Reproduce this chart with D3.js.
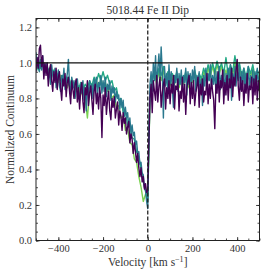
<!DOCTYPE html>
<html>
<head>
<meta charset="utf-8">
<script src="https://cdn.jsdelivr.net/npm/d3@7"></script>
<style>
  body { margin: 0; background: #fff; }
  svg { display: block; }
  .tick text { font-family: "Liberation Serif", serif; font-size: 10.5px; fill: #333; }
</style>
</head>
<body>
<div id="chart"></div>
<script>
// velocity grids (km/s): coarse for the two faint spectra, fine for the two on top
var velocityCoarse = [-500,-490,-480,-470,-460,-450,-440,-430,-420,-410,-400,-390,-380,-370,-360,-350,-340,-330,-320,-310,-300,-290,-280,-270,-260,-250,-240,-230,-220,-210,-200,-190,-180,-170,-160,-150,-140,-130,-120,-110,-100,-90,-80,-70,-60,-50,-40,-30,-20,-10,0,10,20,30,40,50,60,70,80,90,100,110,120,130,140,150,160,170,180,190,200,210,220,230,240,250,260,270,280,290,300,310,320,330,340,350,360,370,380,390,400,410,420,430,440,450,460,470,480,490,500];
var velocityFine = [
  -500,-495,-490,-485,-480,-475,-470,-465,-460,-455,
  -450,-445,-440,-435,-430,-425,-420,-415,-410,-405,
  -400,-395,-390,-385,-380,-375,-370,-365,-360,-355,
  -350,-345,-340,-335,-330,-325,-320,-315,-310,-305,
  -300,-295,-290,-285,-280,-275,-270,-265,-260,-255,
  -250,-245,-240,-235,-230,-225,-220,-215,-210,-205,
  -200,-195,-190,-185,-180,-175,-170,-165,-160,-155,
  -150,-145,-140,-135,-130,-125,-120,-115,-110,-105,
  -100,-95,-90,-85,-80,-75,-70,-65,-60,-55,
  -50,-45,-40,-35,-30,-25,-20,-15,-10,-5,
  0,
  5,10,15,20,25,30,35,40,45,50,
  55,60,65,70,75,80,85,90,95,100,
  105,110,115,120,125,130,135,140,145,150,
  155,160,165,170,175,180,185,190,195,200,
  205,210,215,220,225,230,235,240,245,250,
  255,260,265,270,275,280,285,290,295,300,
  305,310,315,320,325,330,335,340,345,350,
  355,360,365,370,375,380,385,390,395,400,
  405,410,415,420,425,430,435,440,445,450,
  455,460,465,470,475,480,485,490,495,500];

// normalized flux of each spectrum
var fluxLight = [0.99,1.02,0.97,1.0,0.95,0.98,0.93,0.96,0.91,0.94,0.89,0.93,0.88,0.91,0.86,0.9,0.85,0.89,0.84,0.87,0.82,0.86,0.8,0.69,0.84,0.88,0.85,0.9,0.86,0.91,0.87,0.89,0.84,0.86,0.8,0.82,0.75,0.76,0.69,0.7,0.62,0.63,0.55,0.54,0.46,0.44,0.36,0.3,0.22,0.26,0.24,
  0.8,0.9,0.94,0.88,0.95,0.9,0.96,0.88,0.93,0.87,0.92,0.88,0.93,0.86,0.91,0.88,0.93,0.86,0.91,0.89,0.94,0.88,0.92,0.89,0.95,0.91,0.97,0.92,0.98,0.93,0.99,0.94,0.98,0.92,0.96,0.91,0.97,0.93,1.0,0.94,0.98,0.91,0.95,0.9,0.96,0.92,0.97,0.9,0.94,0.91];
var fluxGreen = [1.0,0.96,1.02,0.98,0.99,0.95,0.97,0.93,0.96,0.91,0.94,0.9,0.93,0.88,0.92,0.87,0.91,0.86,0.9,0.85,0.89,0.84,0.88,0.86,0.9,0.87,0.92,0.89,0.94,0.9,0.95,0.9,0.93,0.88,0.9,0.84,0.86,0.79,0.8,0.72,0.73,0.65,0.66,0.58,0.57,0.5,0.47,0.4,0.33,0.28,0.22,
  0.82,0.92,0.96,0.9,0.97,0.93,0.98,0.9,0.95,0.89,0.94,0.9,0.95,0.88,0.93,0.9,0.95,0.88,0.93,0.91,0.96,0.9,0.94,0.91,0.97,0.93,0.99,0.94,1.0,0.95,1.01,0.96,1.0,0.94,1.03,0.93,0.99,0.95,1.04,0.96,1.0,0.93,0.97,0.92,0.98,0.94,0.99,0.92,0.96,0.93];
var fluxTeal = [
  1.06,0.98,1.03,0.95,1.01,0.96,1.04,0.93,0.99,0.95,
  1.0,0.91,0.95,0.88,0.99,0.93,0.9,0.97,0.86,0.92,
  0.96,0.87,0.84,0.93,0.89,0.97,0.85,0.9,0.94,1.02,
  0.88,0.82,0.92,0.86,0.9,0.8,0.87,0.91,0.84,0.79,
  0.88,0.83,0.9,0.79,0.86,0.73,0.87,0.82,0.9,0.84,
  0.88,0.8,0.91,0.85,0.92,0.82,0.89,0.86,0.93,0.83,
  0.9,0.84,0.92,0.81,0.88,0.85,0.9,0.79,0.87,0.83,
  0.86,0.78,0.84,0.8,0.82,0.74,0.8,0.75,0.79,0.7,
  0.75,0.69,0.72,0.64,0.69,0.6,0.65,0.59,0.61,0.54,
  0.56,0.49,0.5,0.43,0.44,0.38,0.37,0.3,0.28,0.22,
  0.18,
  0.62,0.88,0.95,0.84,1.0,0.9,1.04,0.86,0.97,1.05,
  0.92,1.09,0.95,0.69,0.98,0.87,0.94,0.84,0.99,0.88,
  0.95,0.86,0.75,0.93,0.89,0.97,0.84,0.94,0.88,0.96,
  0.85,0.93,0.89,0.97,0.82,0.95,0.88,0.94,0.86,0.96,
  0.9,0.98,0.84,0.93,0.88,0.95,0.83,0.91,0.76,0.93,
  0.87,0.97,0.85,0.94,0.9,0.99,0.86,0.93,0.88,0.96,
  0.84,0.95,0.89,0.98,0.85,0.93,0.87,0.96,0.82,0.94,
  0.88,0.97,0.86,0.99,0.79,0.94,0.89,0.98,0.87,0.96,
  0.9,0.99,0.85,0.95,0.88,0.97,0.86,0.94,0.89,0.98,
  0.85,0.93,0.88,0.96,0.84,0.95,0.89,0.97,0.87,0.93];
var fluxPurple = [
  0.95,1.03,0.97,1.08,1.1,0.98,1.04,0.91,1.0,0.93,
  1.0,0.87,0.96,0.99,0.9,0.84,0.95,0.89,0.97,0.85,
  0.92,0.95,0.86,0.79,0.91,0.87,0.94,0.81,0.89,0.92,
  0.84,0.77,0.9,0.85,0.8,0.88,0.91,0.78,0.86,0.74,
  0.85,0.89,0.78,0.72,0.86,0.82,0.9,0.76,0.83,0.87,
  0.79,0.71,0.84,0.88,0.77,0.83,0.74,0.86,0.8,0.58,
  0.82,0.76,0.86,0.71,0.79,0.84,0.73,0.68,0.8,0.75,
  0.81,0.69,0.74,0.78,0.65,0.73,0.7,0.62,0.72,0.66,
  0.69,0.6,0.64,0.67,0.55,0.6,0.57,0.49,0.55,0.5,
  0.44,0.49,0.41,0.36,0.41,0.33,0.36,0.29,0.32,0.27,
  0.28,
  0.55,0.8,0.88,0.72,0.9,0.84,0.79,0.93,0.78,0.87,
  0.92,0.75,0.83,0.88,0.91,0.74,0.86,0.8,0.9,0.77,
  0.88,0.83,0.93,0.74,0.87,0.85,0.91,0.73,0.84,0.8,
  0.92,0.78,0.88,0.71,0.86,0.9,0.93,0.77,0.89,0.8,
  0.9,0.76,0.83,0.87,0.92,0.75,0.88,0.82,0.91,0.78,
  0.84,0.82,0.94,0.77,0.88,0.8,0.91,0.84,0.79,0.63,
  0.88,0.83,0.95,0.78,0.9,0.86,0.96,0.77,0.89,0.82,
  0.93,0.79,0.91,0.86,0.97,0.81,0.92,0.87,0.96,1.02,
  0.87,0.79,0.92,0.84,0.9,0.76,0.88,0.83,0.94,0.78,
  0.87,0.85,0.92,0.77,0.91,0.82,0.93,0.79,0.9,0.84];

var series = [
  { color: "#7ad151", v: velocityCoarse, values: fluxLight },
  { color: "#22a884", v: velocityCoarse, values: fluxGreen },
  { color: "#2a788e", v: velocityFine, values: fluxTeal },
  { color: "#440154", v: velocityFine, values: fluxPurple }
];

var xTicks = [-400, -200, 0, 200, 400];
var yTicks = [0.0, 0.2, 0.4, 0.6, 0.8, 1.0, 1.2];

var margin = { top: 18.5, right: 6.5, bottom: 34.5, left: 36 };
var W = 266, H = 275;
var width = W - margin.left - margin.right;
var height = H - margin.top - margin.bottom;

var svg = d3.select("#chart").append("svg")
  .attr("width", W)
  .attr("height", H);

var g = svg.append("g")
  .attr("transform", "translate(" + margin.left + "," + margin.top + ")");

var x = d3.scaleLinear().domain([-500, 500]).range([0, width]);
var y = d3.scaleLinear().domain([0, 1.25]).range([height, 0]);

g.append("defs").append("clipPath").attr("id", "clip")
  .append("rect").attr("width", width).attr("height", height);

var plot = g.append("g").attr("clip-path", "url(#clip)");

plot.selectAll(".spec")
  .data(series)
  .enter()
  .append("path")
  .attr("class", "spec")
  .attr("fill", "none")
  .attr("stroke", function(d) { return d.color; })
  .attr("stroke-width", 1.4)
  .attr("stroke-linejoin", "round")
  .attr("d", function(s) {
    return d3.line()
      .x(function(d, i) { return x(s.v[i]); })
      .y(function(d) { return y(d); })(s.values);
  });

// continuum level
plot.append("line")
  .attr("x1", 0).attr("x2", width)
  .attr("y1", y(1)).attr("y2", y(1))
  .attr("stroke", "#111").attr("stroke-width", 1.3);

// line centre
plot.append("line")
  .attr("x1", x(0)).attr("x2", x(0))
  .attr("y1", 0).attr("y2", height)
  .attr("stroke", "#222").attr("stroke-width", 1.3)
  .attr("stroke-dasharray", "4,2");

function fmtX(d) { return d < 0 ? "\u2212" + Math.abs(d) : "" + d; }

// major + minor ticks, inward on all sides
var xMinor = d3.range(-500, 501, 50);
var yMinor = d3.range(0, 1.26, 0.05);

function noDomain(a) { a.select(".domain").remove(); }

g.append("g").attr("transform", "translate(0," + height + ")")
  .call(d3.axisBottom(x).tickValues(xMinor).tickSize(-2).tickFormat("")).call(noDomain);
g.append("g")
  .call(d3.axisTop(x).tickValues(xMinor).tickSize(-2).tickFormat("")).call(noDomain);
g.append("g")
  .call(d3.axisLeft(y).tickValues(yMinor).tickSize(-2).tickFormat("")).call(noDomain);
g.append("g").attr("transform", "translate(" + width + ",0)")
  .call(d3.axisRight(y).tickValues(yMinor).tickSize(-2).tickFormat("")).call(noDomain);

g.append("g").attr("transform", "translate(0," + height + ")")
  .call(d3.axisBottom(x).tickValues(xTicks).tickSize(-3.5).tickPadding(4).tickFormat(fmtX)).call(noDomain);
g.append("g")
  .call(d3.axisTop(x).tickValues(xTicks).tickSize(-3.5).tickFormat("")).call(noDomain);
g.append("g")
  .call(d3.axisLeft(y).tickValues(yTicks).tickSize(-3.5).tickPadding(4).tickFormat(d3.format(".1f"))).call(noDomain);
g.append("g").attr("transform", "translate(" + width + ",0)")
  .call(d3.axisRight(y).tickValues(yTicks).tickSize(-3.5).tickFormat("")).call(noDomain);

g.selectAll(".tick line").attr("stroke", "#222").attr("stroke-width", 0.8);

g.append("rect")
  .attr("width", width).attr("height", height)
  .attr("fill", "none").attr("stroke", "#222").attr("stroke-width", 1);

// title and axis labels
svg.append("text")
  .attr("x", margin.left + width / 2).attr("y", 14)
  .attr("text-anchor", "middle")
  .style("font-family", "Liberation Serif, serif").style("font-size", "11.5px").style("fill", "#333")
  .text("5018.44 Fe II Dip");

svg.append("text")
  .attr("transform", "translate(14," + (margin.top + height / 2) + ") rotate(-90)")
  .attr("text-anchor", "middle")
  .style("font-family", "Liberation Serif, serif").style("font-size", "11.5px").style("fill", "#333")
  .text("Normalized Continuum");

var xl = svg.append("text")
  .attr("x", margin.left + width / 2).attr("y", 266)
  .attr("text-anchor", "middle")
  .style("font-family", "Liberation Serif, serif").style("font-size", "11.5px").style("fill", "#333");
xl.append("tspan").text("Velocity [km s");
xl.append("tspan").attr("dy", -4).style("font-size", "8px").text("\u22121");
xl.append("tspan").attr("dy", 4).text("]");
</script>
</body>
</html>
